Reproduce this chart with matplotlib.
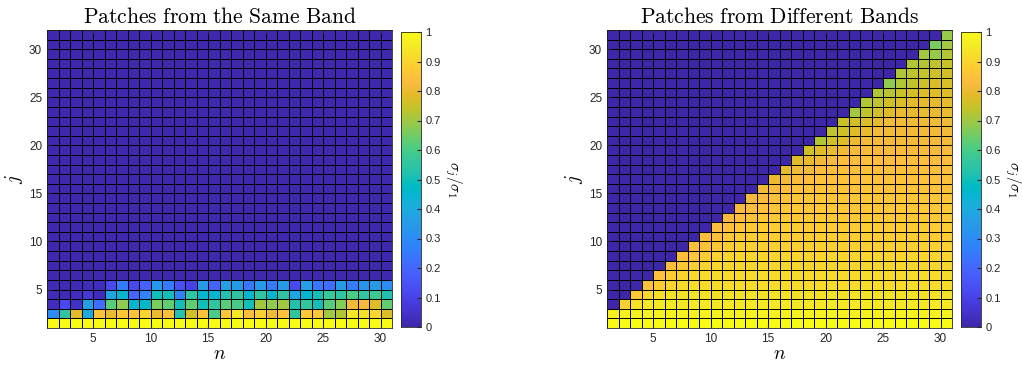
import matplotlib
matplotlib.use("Agg")
import matplotlib.pyplot as plt
import numpy as np
from matplotlib.colors import LinearSegmentedColormap

plt.rcParams['mathtext.fontset'] = 'cm'
plt.rcParams['font.family'] = ['Liberation Sans', 'DejaVu Sans']

# parula (MATLAB default colormap)
parula_rgb = [
    [0.2422, 0.1504, 0.6603], [0.2504, 0.1650, 0.7076], [0.2578, 0.1818, 0.7511], [0.2647, 0.1978, 0.7952],
    [0.2706, 0.2147, 0.8364], [0.2751, 0.2342, 0.8710], [0.2783, 0.2559, 0.8991], [0.2803, 0.2782, 0.9221],
    [0.2813, 0.3006, 0.9414], [0.2810, 0.3228, 0.9579], [0.2795, 0.3447, 0.9717], [0.2760, 0.3667, 0.9829],
    [0.2699, 0.3892, 0.9906], [0.2602, 0.4123, 0.9952], [0.2440, 0.4358, 0.9988], [0.2206, 0.4603, 0.9973],
    [0.1963, 0.4847, 0.9892], [0.1834, 0.5074, 0.9798], [0.1786, 0.5289, 0.9682], [0.1764, 0.5499, 0.9520],
    [0.1687, 0.5703, 0.9359], [0.1540, 0.5902, 0.9218], [0.1460, 0.6091, 0.9079], [0.1380, 0.6276, 0.8973],
    [0.1248, 0.6459, 0.8883], [0.1113, 0.6635, 0.8763], [0.0952, 0.6798, 0.8598], [0.0689, 0.6948, 0.8394],
    [0.0297, 0.7082, 0.8163], [0.0036, 0.7203, 0.7917], [0.0067, 0.7312, 0.7660], [0.0433, 0.7411, 0.7394],
    [0.0964, 0.7500, 0.7120], [0.1408, 0.7584, 0.6842], [0.1717, 0.7670, 0.6554], [0.1938, 0.7758, 0.6251],
    [0.2161, 0.7843, 0.5923], [0.2470, 0.7918, 0.5567], [0.2906, 0.7973, 0.5188], [0.3406, 0.8008, 0.4789],
    [0.3909, 0.8029, 0.4354], [0.4456, 0.8024, 0.3909], [0.5044, 0.7993, 0.3480], [0.5616, 0.7942, 0.3045],
    [0.6174, 0.7876, 0.2612], [0.6720, 0.7793, 0.2227], [0.7242, 0.7698, 0.1910], [0.7738, 0.7598, 0.1646],
    [0.8203, 0.7498, 0.1535], [0.8634, 0.7406, 0.1596], [0.9035, 0.7330, 0.1774], [0.9393, 0.7288, 0.2100],
    [0.9728, 0.7298, 0.2394], [0.9956, 0.7434, 0.2371], [0.9970, 0.7659, 0.2199], [0.9952, 0.7893, 0.2028],
    [0.9892, 0.8136, 0.1885], [0.9786, 0.8386, 0.1766], [0.9676, 0.8639, 0.1643], [0.9610, 0.8890, 0.1537],
    [0.9597, 0.9135, 0.1423], [0.9628, 0.9373, 0.1265], [0.9691, 0.9606, 0.1064], [0.9769, 0.9839, 0.0805],
]
parula = LinearSegmentedColormap.from_list('parula', parula_rgb)

# grid nodes (pcolor style: last row/col dropped)
n_nodes = np.arange(1, 32)   # 1..31
j_nodes = np.arange(1, 33)   # 1..32

# ---- Patches from the same band: rows j = 1..31, cols n = 1..30
same_j1 = [1.0] * 30
same_j2 = [0.30, 0.55, 0.79, 0.40, 0.85, 0.80, 0.87, 0.85, 0.90, 0.80, 0.85, 0.53, 0.76, 0.85, 0.60,
           0.86, 0.95, 0.84, 0.89, 0.81, 0.85, 0.55, 0.87, 0.87, 0.70, 0.72, 0.95, 0.93, 0.90, 0.77]
same_j3 = [0.03, 0.12, 0.04, 0.36, 0.22, 0.62, 0.68, 0.45, 0.46, 0.66, 0.63, 0.50, 0.63, 0.50, 0.55,
           0.62, 0.60, 0.50, 0.70, 0.68, 0.70, 0.52, 0.56, 0.50, 0.62, 0.67, 0.82, 0.82, 0.78, 0.63]
same_j4 = [0.02, 0.02, 0.03, 0.07, 0.03, 0.38, 0.45, 0.20, 0.28, 0.50, 0.50, 0.27, 0.55, 0.45, 0.45,
           0.52, 0.55, 0.45, 0.55, 0.45, 0.55, 0.38, 0.45, 0.50, 0.57, 0.55, 0.60, 0.55, 0.58, 0.52]
same_j5 = [0.02, 0.02, 0.02, 0.03, 0.03, 0.12, 0.26, 0.12, 0.18, 0.34, 0.25, 0.14, 0.10, 0.35, 0.19,
           0.37, 0.35, 0.24, 0.34, 0.25, 0.35, 0.12, 0.36, 0.24, 0.22, 0.35, 0.26, 0.33, 0.35, 0.30]
same_upper = [0.01] * 30   # j = 6..31
same = np.array([same_j1, same_j2, same_j3, same_j4, same_j5] + [same_upper] * 26)

# ---- Patches from different bands
diff_rows = [
    [1.0] * 30,
    [0.97] * 30,
    [0] * 1 + [0.89, 0.93] + [0.95] * 27,
    [0] * 2 + [0.86, 0.905, 0.92] + [0.93] * 25,
    [0] * 3 + [0.85, 0.88, 0.90, 0.91] + [0.92] * 23,
    [0] * 4 + [0.85, 0.875, 0.895, 0.905] + [0.915] * 22,
    [0] * 5 + [0.84, 0.865, 0.885, 0.895] + [0.905] * 21,
    [0] * 6 + [0.84, 0.86, 0.875, 0.89] + [0.90] * 20,
    [0] * 7 + [0.84, 0.855, 0.87, 0.88] + [0.89] * 19,
    [0] * 8 + [0.84, 0.85, 0.865, 0.875] + [0.88] * 18,
    [0] * 9 + [0.835, 0.845, 0.86, 0.87] + [0.875] * 17,
    [0] * 10 + [0.83, 0.84, 0.855, 0.865] + [0.87] * 16,
    [0] * 11 + [0.825, 0.835, 0.85, 0.86] + [0.865] * 15,
    [0] * 12 + [0.82, 0.83, 0.845, 0.855] + [0.86] * 14,
    [0] * 13 + [0.81, 0.825, 0.84, 0.85] + [0.855] * 13,
    [0] * 14 + [0.80, 0.815, 0.83, 0.84] + [0.85] * 12,
    [0] * 15 + [0.79, 0.805, 0.82, 0.835] + [0.845] * 11,
    [0] * 16 + [0.78, 0.795, 0.81, 0.825] + [0.84] * 10,
    [0] * 17 + [0.76, 0.78, 0.80, 0.815] + [0.83] * 9,
    [0] * 18 + [0.72, 0.76, 0.78, 0.80] + [0.82] * 8,
    [0] * 19 + [0.74, 0.76, 0.78, 0.795] + [0.815] * 7,
    [0] * 20 + [0.75, 0.76, 0.775, 0.79] + [0.81] * 6,
    [0] * 21 + [0.70, 0.74, 0.765, 0.78] + [0.80] * 5,
    [0] * 22 + [0.72, 0.735, 0.76, 0.775] + [0.79] * 4,
    [0] * 23 + [0.72, 0.73, 0.75, 0.765] + [0.78] * 3,
    [0] * 24 + [0.68, 0.72, 0.74, 0.755] + [0.77] * 2,
    [0] * 25 + [0.72, 0.735, 0.745, 0.755, 0.76],
    [0] * 26 + [0.72, 0.725, 0.735, 0.745],
    [0] * 27 + [0.70, 0.69, 0.725],
    [0] * 28 + [0.66, 0.70],
    [0] * 29 + [0.69],
]
diff = np.array(diff_rows)

titles = ['Patches from the Same Band', 'Patches from Different Bands']
ticks = [5, 10, 15, 20, 25, 30]
cb_ticks = [0, 0.1, 0.2, 0.3, 0.4, 0.5, 0.6, 0.7, 0.8, 0.9, 1]
cb_labels = ['0', '0.1', '0.2', '0.3', '0.4', '0.5', '0.6', '0.7', '0.8', '0.9', '1']

W, H = 1022, 368
fig = plt.figure(figsize=(W / 100, H / 100), dpi=100)

ax_left = [47, 607]
cb_left = [401, 961]
for k, C in enumerate([same, diff]):
    ax = fig.add_axes([ax_left[k] / W, 1 - 328 / H, 345 / W, 298 / H])
    ax.pcolormesh(n_nodes, j_nodes, C, cmap=parula, vmin=0, vmax=1,
                  edgecolors='k', linewidth=0.6)
    ax.set_xlim(1, 31)
    ax.set_ylim(1, 32)
    ax.set_xticks(ticks)
    ax.set_yticks(ticks)
    ax.tick_params(direction='in', labelsize=8.5, length=3, top=True, right=True,
                   colors='#262626', labelcolor='#262626')
    for s in ax.spines.values():
        s.set_color('#262626')
        s.set_linewidth(0.6)
    ax.set_title(r'$\mathrm{' + titles[k].replace(' ', r'\ ') + '}$', fontsize=15.5, pad=5)
    ax.set_xlabel(r'$n$', fontsize=14, labelpad=1)
    ax.set_ylabel(r'$j$', fontsize=14, labelpad=3)

    cax = fig.add_axes([cb_left[k] / W, 1 - 327 / H, 20 / W, 295 / H])
    sm = plt.cm.ScalarMappable(cmap=parula, norm=plt.Normalize(0, 1))
    cb = fig.colorbar(sm, cax=cax)
    cb.set_ticks(cb_ticks)
    cb.set_ticklabels(cb_labels)
    cax.tick_params(direction='in', labelsize=8, length=3, pad=3, colors='#262626',
                    labelcolor='#262626')
    cb.outline.set_linewidth(0.6)
    cb.outline.set_edgecolor('#262626')
    cax.set_ylabel(r'$\sigma_j/\sigma_1$', fontsize=11, rotation=270, va='bottom', labelpad=1.5)

fig.savefig('out.png', dpi=100)
